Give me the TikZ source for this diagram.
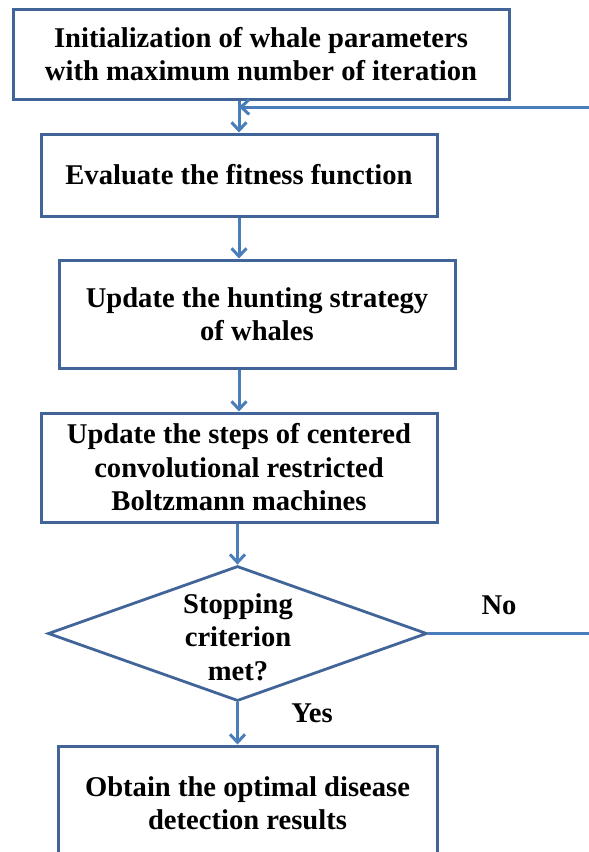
\documentclass[tikz,border=0pt]{standalone}
\usepackage{fontspec}
\setmainfont{Liberation Serif}
\usetikzlibrary{arrows.meta,shapes.geometric,calc}
\definecolor{boxcol}{RGB}{65,101,153}
\definecolor{linecol}{RGB}{74,126,187}
\tikzstyle{arrow} = [line width=3pt,linecol,-{Straight Barb[length=8pt,width=15pt]}]
\tikzstyle{process} = [rectangle,draw=boxcol,line width=3pt,align=center,inner sep=0pt]
\tikzstyle{decision} = [diamond,draw=boxcol,line width=2.8pt,inner sep=0pt]
\begin{document}
\begin{tikzpicture}[x=1pt,y=-1pt,font=\fontsize{28.6}{33.5}\selectfont\bfseries]
\useasboundingbox (0,0) rectangle (589,852);
\clip (0,0) rectangle (589,852);

\node[process,minimum width=496,minimum height=90] (init) at (261,54) {Initialization of whale parameters\\with maximum number of iteration};
\node[process,minimum width=396,minimum height=82] (fitness) at (239,175) {Evaluate the fitness function};
\node[process,minimum width=396,minimum height=108] (hunt) at (257,314) {Update the hunting strategy\\of whales};
\node[process,minimum width=396,minimum height=109] (ccrbm) at (239,467.5) {Update the steps of centered\\convolutional restricted\\Boltzmann machines};
\node[decision,minimum width=379,minimum height=135] (stop) at (237.5,633.5) {};
\node[align=center,inner sep=0pt] (stoptext) at (238,637) {Stopping\\criterion\\met?};
\node[process,minimum width=379,minimum height=114] (result) at (247.5,803) {Obtain the optimal disease\\detection results};

\node (no) at (499,605) {No};
\node (yes) at (312,713) {Yes};

\coordinate (back) at (620,107);

\draw[arrow] (init.south -| fitness.north) -- (fitness.north);
\draw[arrow] (fitness.south) -- (fitness.south |- hunt.north);
\draw[arrow] (hunt.south -| ccrbm.north) -- (ccrbm.north);
\draw[arrow] (ccrbm.south -| stop.north) -- (stop.north);
\draw[arrow] (stop.south) -- (stop.south |- result.north);
\draw[arrow] (stop.east) -- (stop.east -| back) -- (back) -- (back -| fitness.north);
\end{tikzpicture}
\end{document}
